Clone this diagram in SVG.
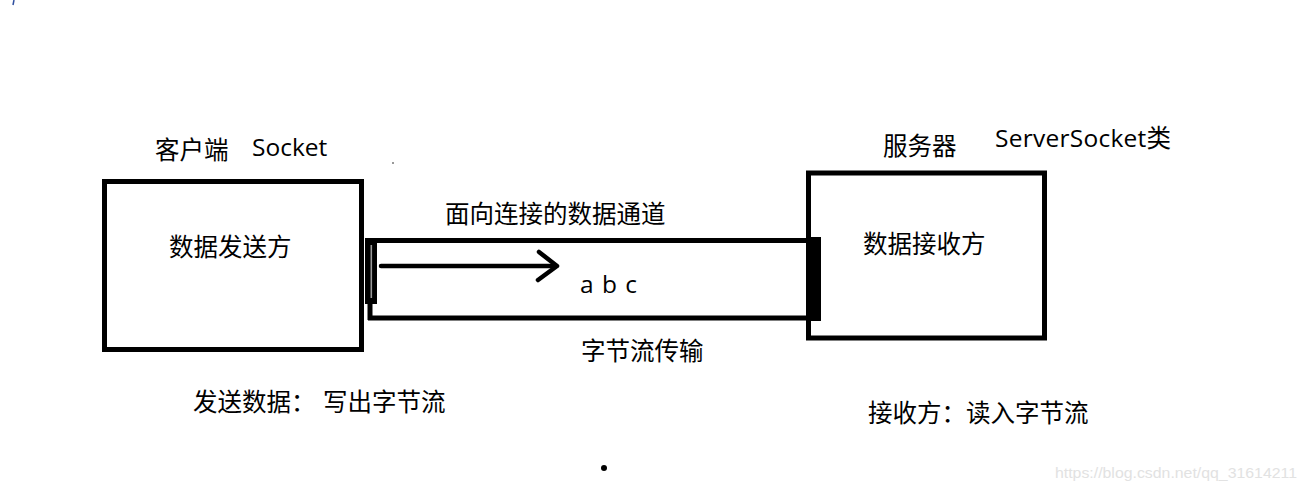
<svg xmlns="http://www.w3.org/2000/svg" width="1305" height="491" viewBox="0 0 1305 491">
<style>
.t{font-family:"Open Sans","Noto Sans CJK SC",sans-serif;font-size:24.5px;fill:#000}
.box{fill:#fff;stroke:#000;stroke-width:5}
.ln{stroke:#000;stroke-width:5;fill:none}
.arr{stroke:#000;stroke-width:4.5;fill:none;stroke-linecap:round;stroke-linejoin:round}
.wm{font-family:"Liberation Sans",Arial,sans-serif;font-size:15px;fill:#e2e2e2}
</style>
<rect width="1305" height="491" fill="#fff"/>
<line x1="14" y1="0" x2="13" y2="5" stroke="#3050a0" stroke-width="1.5"/>
<g id="client">
<rect class="box" x="104.5" y="181.5" width="257" height="168"/>
<text class="t" x="155" y="159">客户端</text>
<text class="t" x="252" y="156">Socket</text>
<text class="t" x="169" y="256">数据发送方</text>
<text class="t" x="193" y="411">发送数据：<tspan x="323">写出字节流</tspan></text>
</g>
<g id="server">
<rect class="box" x="808.5" y="173" width="236" height="165"/>
<text class="t" x="883" y="155">服务器</text>
<text class="t" x="995" y="147" textLength="176">ServerSocket类</text>
<text class="t" x="863" y="253">数据接收方</text>
<text class="t" x="868" y="422">接收方：读入字节流</text>
</g>
<g id="connectors">
<line class="ln" x1="365" y1="240.5" x2="808" y2="240.5"/>
<line class="ln" x1="368" y1="318" x2="808" y2="318"/>
<line class="ln" x1="370" y1="300" x2="370" y2="320"/>
<rect x="365" y="238" width="12" height="66" fill="#000"/>
<line x1="371.3" y1="245" x2="371.3" y2="298" stroke="#9a9a9a" stroke-width="1.6"/>
<rect x="806" y="237" width="15" height="84" fill="#000"/>
<line class="arr" x1="381" y1="266" x2="556" y2="266"/>
<polyline class="arr" points="539,252 557,266 538,280"/>
</g>
<g id="channel">
<text class="t" x="445" y="223">面向连接的数据通道</text>
<text class="t" x="580" y="293" textLength="57" lengthAdjust="spacing">a b c</text>
<text class="t" x="581" y="360">字节流传输</text>
</g>
<circle cx="393" cy="163" r="1" fill="#777"/>
<circle cx="604" cy="468" r="3" fill="#000"/>
<text class="wm" x="1055" y="478" textLength="242" lengthAdjust="spacingAndGlyphs">https://blog.csdn.net/qq_31614211</text>
</svg>
